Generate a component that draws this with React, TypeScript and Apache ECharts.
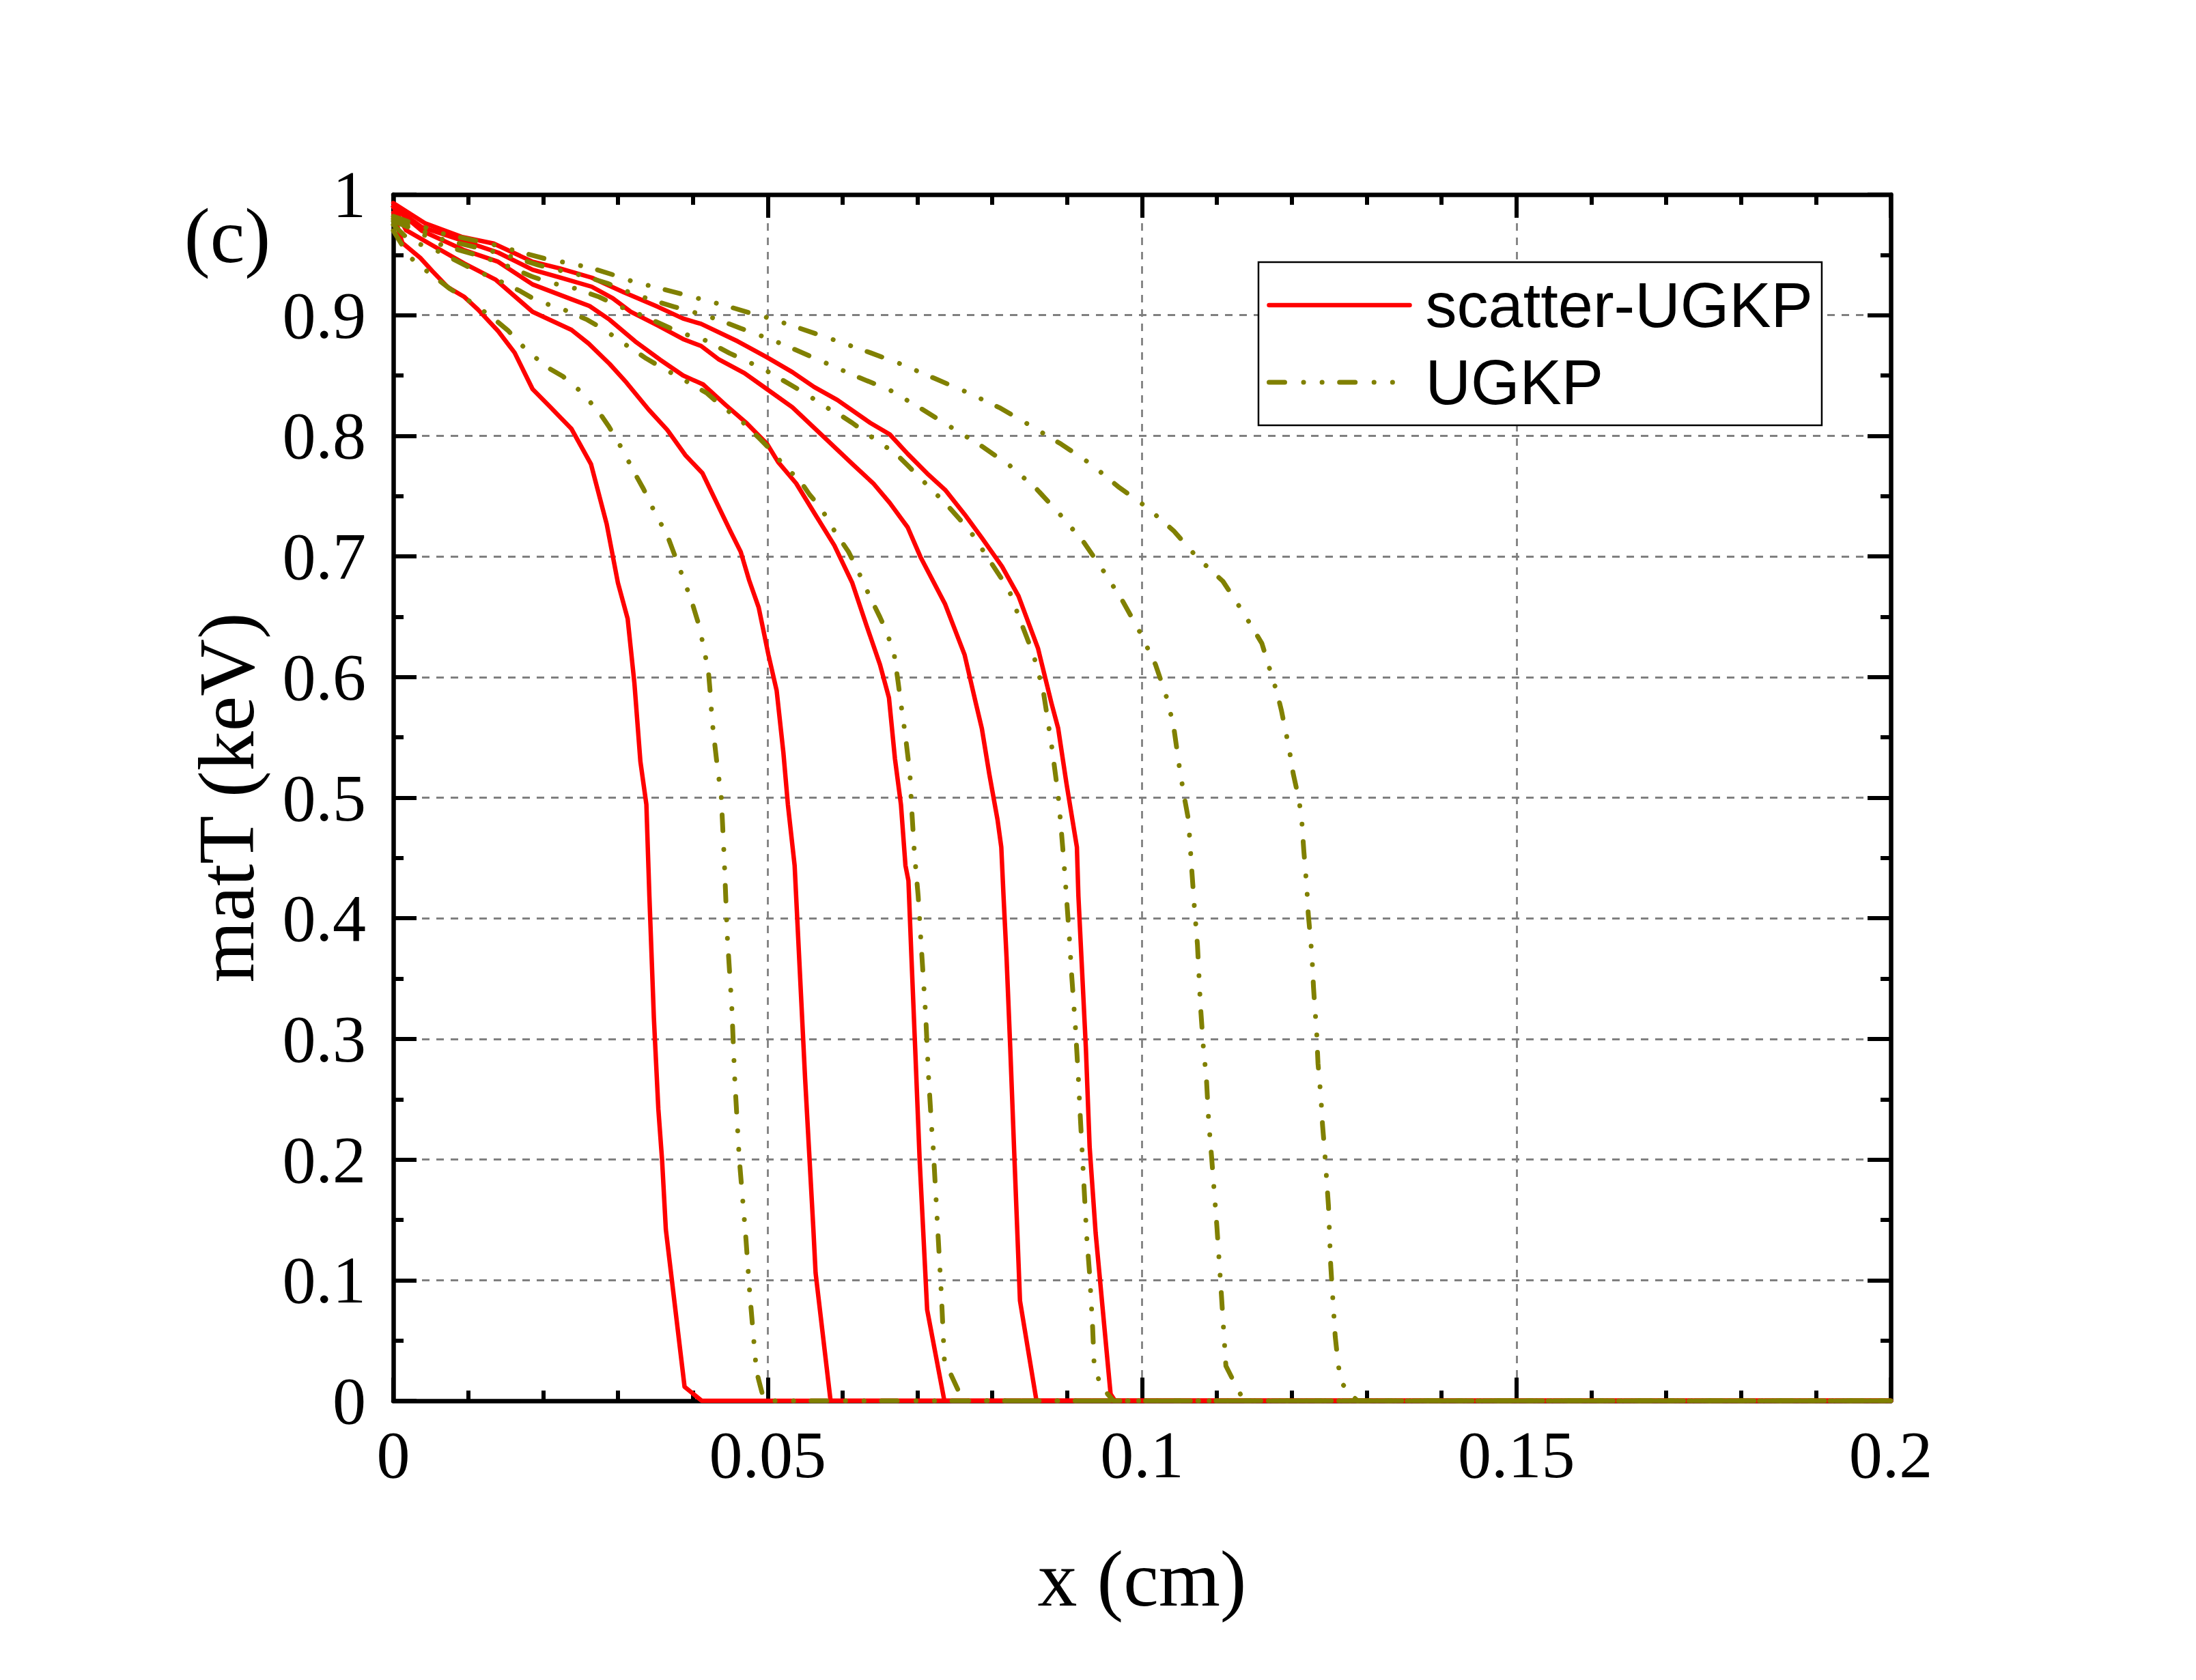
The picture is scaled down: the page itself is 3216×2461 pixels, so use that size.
import React, { useEffect, useRef } from "react";
import * as echarts from "echarts";

// x (cm), matT (keV)
const scatterUGKP1 = [
  [0, 0.985], [0.0012, 0.96], [0.0036, 0.9475], [0.0052, 0.9366], [0.0073, 0.9231], [0.0095, 0.9151],
  [0.0113, 0.9047], [0.014, 0.8868], [0.0162, 0.8689], [0.0186, 0.8387], [0.0209, 0.8243], [0.0238, 0.8057],
  [0.0264, 0.7765], [0.0285, 0.7268], [0.03, 0.678], [0.0313, 0.6483], [0.0322, 0.595], [0.033, 0.53],
  [0.0338, 0.4943], [0.0342, 0.4186], [0.0348, 0.3175], [0.0354, 0.2417], [0.0359, 0.1992], [0.0364, 0.142],
  [0.0389, 0.0116], [0.0412, 0], [0.2, 0],
];
const scatterUGKP2 = [
  [0, 0.99], [0.0017, 0.9705], [0.0052, 0.958], [0.0095, 0.9428], [0.0137, 0.9293], [0.0186, 0.9028],
  [0.0238, 0.8878], [0.0261, 0.8764], [0.0289, 0.8595], [0.0311, 0.8444], [0.0341, 0.8217], [0.0366, 0.8048],
  [0.039, 0.784], [0.0413, 0.7689], [0.0429, 0.7482], [0.0451, 0.7199], [0.0464, 0.7038], [0.0475, 0.6807],
  [0.0488, 0.6577], [0.0501, 0.6185], [0.0512, 0.5887], [0.0521, 0.5373], [0.0527, 0.4943], [0.0536, 0.4438],
  [0.054, 0.3933], [0.0546, 0.3175], [0.055, 0.267], [0.0556, 0.1992], [0.0561, 0.1426], [0.0564, 0.106],
  [0.0584, 0], [0.2, 0],
];
const scatterUGKP3 = [
  [0, 0.99], [0.0038, 0.97], [0.0095, 0.9538], [0.014, 0.9443], [0.0186, 0.9255], [0.0238, 0.9132],
  [0.0262, 0.9076], [0.0289, 0.8962], [0.0323, 0.8783], [0.0356, 0.8632], [0.0387, 0.85], [0.0414, 0.8425],
  [0.0444, 0.8255], [0.0472, 0.8104], [0.0499, 0.7934], [0.0514, 0.7782], [0.0538, 0.7606], [0.0562, 0.7363],
  [0.0589, 0.7092], [0.0613, 0.678], [0.0632, 0.6428], [0.065, 0.6103], [0.0662, 0.5828], [0.067, 0.5322],
  [0.0678, 0.4943], [0.0684, 0.4438], [0.0688, 0.4312], [0.0692, 0.368], [0.0697, 0.2922], [0.0703, 0.1992],
  [0.0713, 0.0755], [0.0736, 0], [0.2, 0],
];
const scatterUGKP4 = [
  [0, 0.99], [0.0038, 0.973], [0.0095, 0.9613], [0.014, 0.9519], [0.0186, 0.9377], [0.0223, 0.9311],
  [0.0265, 0.9236], [0.0293, 0.9141], [0.0317, 0.9029], [0.0353, 0.8915], [0.0387, 0.8802], [0.0411, 0.8745],
  [0.0435, 0.8632], [0.0469, 0.8519], [0.0499, 0.8387], [0.0533, 0.8236], [0.0576, 0.7985], [0.0615, 0.7755],
  [0.0641, 0.7606], [0.0663, 0.7444], [0.0687, 0.7241], [0.0704, 0.6997], [0.0737, 0.6604], [0.0763, 0.6185],
  [0.0778, 0.5784], [0.0786, 0.5575], [0.0796, 0.5196], [0.0807, 0.4817], [0.0812, 0.459], [0.0815, 0.4185],
  [0.0819, 0.368], [0.0824, 0.2922], [0.0829, 0.2105], [0.0837, 0.0829], [0.0859, 0], [0.2, 0],
];
const scatterUGKP5 = [
  [0, 0.993], [0.0043, 0.976], [0.0091, 0.965], [0.0134, 0.9594], [0.0186, 0.9443], [0.0223, 0.9387],
  [0.0265, 0.9311], [0.0308, 0.9189], [0.0353, 0.907], [0.0387, 0.8972], [0.0411, 0.8928], [0.046, 0.8783],
  [0.0499, 0.8651], [0.0533, 0.8528], [0.0562, 0.8405], [0.0593, 0.8297], [0.0637, 0.8107], [0.0663, 0.8012],
  [0.0687, 0.785], [0.0713, 0.7688], [0.0737, 0.7552], [0.0763, 0.7349], [0.0787, 0.7146], [0.0813, 0.6916],
  [0.0835, 0.6672], [0.0861, 0.6239], [0.0879, 0.5784], [0.0888, 0.5575], [0.0899, 0.512], [0.0913, 0.459],
  [0.0915, 0.4185], [0.0919, 0.368], [0.0925, 0.2922], [0.093, 0.2105], [0.0938, 0.1393], [0.0958, 0.0056],
  [0.0964, 0], [0.2, 0],
];

const ugkp1 = [
  [0, 0.97], [0.0021, 0.9488], [0.0036, 0.9407], [0.0056, 0.9312], [0.0076, 0.9217], [0.0106, 0.91],
  [0.0133, 0.8977], [0.0153, 0.8874], [0.0177, 0.8717], [0.0204, 0.8574], [0.0226, 0.8495], [0.0251, 0.8364],
  [0.0274, 0.8202], [0.0288, 0.8076], [0.0306, 0.7887], [0.0322, 0.7695], [0.0334, 0.7561], [0.0349, 0.7368],
  [0.0366, 0.7173], [0.0375, 0.7024], [0.0388, 0.6807], [0.0399, 0.6618], [0.0407, 0.6455], [0.0414, 0.6266],
  [0.0421, 0.6036], [0.0423, 0.589], [0.0426, 0.5626], [0.0432, 0.5297], [0.0438, 0.5007], [0.0442, 0.4489],
  [0.0446, 0.3857], [0.0452, 0.3276], [0.0456, 0.267], [0.0462, 0.2013], [0.0471, 0.134], [0.0476, 0.0896],
  [0.0485, 0.0244], [0.0494, 0.003], [0.0497, 0], [0.2, 0],
];
const ugkp2 = [
  [0, 0.975], [0.0021, 0.9624], [0.006, 0.9529], [0.0107, 0.9378], [0.0139, 0.9293], [0.017, 0.9198],
  [0.0192, 0.9119], [0.0226, 0.9051], [0.0259, 0.8962], [0.028, 0.8887], [0.0309, 0.8761], [0.0338, 0.864],
  [0.0359, 0.8564], [0.039, 0.8457], [0.0419, 0.8353], [0.0437, 0.8253], [0.0465, 0.8123], [0.0489, 0.7978],
  [0.0507, 0.7865], [0.0525, 0.7728], [0.0541, 0.7647], [0.0556, 0.7512], [0.0571, 0.7403], [0.0589, 0.7214],
  [0.0608, 0.7038], [0.0619, 0.6902], [0.0635, 0.6686], [0.065, 0.6496], [0.0659, 0.6374], [0.0669, 0.6185],
  [0.0674, 0.5968], [0.0678, 0.5777], [0.0684, 0.5512], [0.069, 0.5196], [0.0692, 0.4943], [0.0696, 0.4539],
  [0.0701, 0.4185], [0.0705, 0.3781], [0.0711, 0.32], [0.0715, 0.267], [0.0719, 0.2265], [0.0721, 0.2105],
  [0.0732, 0.0878], [0.0736, 0.0338], [0.0744, 0.0228], [0.0754, 0.0093], [0.076, 0], [0.2, 0],
];
const ugkp3 = [
  [0, 0.978], [0.003, 0.9705], [0.0065, 0.958], [0.0121, 0.9481], [0.0153, 0.9406], [0.0185, 0.9321],
  [0.0207, 0.9274], [0.0242, 0.9223], [0.0275, 0.9151], [0.0297, 0.9085], [0.033, 0.9004], [0.0362, 0.8915],
  [0.0384, 0.8853], [0.0418, 0.8789], [0.0449, 0.8685], [0.0471, 0.8623], [0.0502, 0.8527], [0.053, 0.8425],
  [0.0554, 0.8337], [0.0576, 0.8243], [0.0593, 0.8188], [0.0613, 0.8107], [0.0652, 0.7931], [0.0669, 0.7864],
  [0.0687, 0.7755], [0.0704, 0.7647], [0.0737, 0.7444], [0.077, 0.7214], [0.0796, 0.697], [0.0822, 0.6726],
  [0.0839, 0.6442], [0.0855, 0.6185], [0.0868, 0.5887], [0.0872, 0.5727], [0.088, 0.5398], [0.0888, 0.502],
  [0.0892, 0.4741], [0.0896, 0.4438], [0.0899, 0.4185], [0.0903, 0.3832], [0.0906, 0.3529], [0.0911, 0.3099],
  [0.0915, 0.267], [0.0917, 0.2417], [0.092, 0.2068], [0.0926, 0.1369], [0.093, 0.105], [0.0934, 0.0608],
  [0.0936, 0.0301], [0.0942, 0.0178], [0.0954, 0.0056], [0.0962, 0], [0.2, 0],
];
const ugkp4 = [
  [0, 0.98], [0.0065, 0.963], [0.0127, 0.9538], [0.016, 0.9481], [0.0194, 0.9415], [0.0218, 0.9377],
  [0.0253, 0.9328], [0.0286, 0.9264], [0.0309, 0.9204], [0.0342, 0.9132], [0.0375, 0.907], [0.0399, 0.9028],
  [0.0432, 0.8968], [0.0464, 0.8891], [0.0489, 0.8834], [0.0521, 0.8757], [0.0576, 0.8608], [0.0621, 0.8486],
  [0.0663, 0.838], [0.0704, 0.8229], [0.0746, 0.8067], [0.0785, 0.7918], [0.0823, 0.7755], [0.0859, 0.756],
  [0.0891, 0.7344], [0.0922, 0.7119], [0.0949, 0.6875], [0.0974, 0.6631], [0.0997, 0.6374], [0.1018, 0.6103],
  [0.1033, 0.5828], [0.1042, 0.56], [0.105, 0.5247], [0.1056, 0.502], [0.1062, 0.4817], [0.1066, 0.4438],
  [0.107, 0.4084], [0.1074, 0.3781], [0.1078, 0.3276], [0.1082, 0.2922], [0.1086, 0.267], [0.1089, 0.2316],
  [0.1093, 0.2013], [0.11, 0.1442], [0.1106, 0.0878], [0.1112, 0.0289], [0.1124, 0.0142], [0.1136, 0], [0.2, 0],
];
const ugkp5 = [
  [0, 0.982], [0.0065, 0.9678], [0.0134, 0.9585], [0.0168, 0.9525], [0.0203, 0.9468], [0.0227, 0.944],
  [0.0262, 0.9396], [0.0294, 0.9334], [0.0318, 0.9283], [0.0353, 0.9227], [0.0386, 0.9174], [0.0409, 0.9136],
  [0.0444, 0.9079], [0.0477, 0.9017], [0.0501, 0.8977], [0.0527, 0.8925], [0.0591, 0.879], [0.0637, 0.8689],
  [0.0678, 0.8595], [0.0724, 0.8473], [0.0768, 0.8356], [0.0811, 0.8229], [0.085, 0.8088], [0.0892, 0.7931],
  [0.0931, 0.7769], [0.0968, 0.7579], [0.1006, 0.7409], [0.1042, 0.7214], [0.1074, 0.6989], [0.1108, 0.6794],
  [0.1135, 0.6537], [0.116, 0.628], [0.1174, 0.5995], [0.118, 0.5878], [0.1186, 0.5727], [0.1191, 0.5575],
  [0.1196, 0.5423], [0.1202, 0.5196], [0.1209, 0.5], [0.1213, 0.4842], [0.1216, 0.4564], [0.1218, 0.4413],
  [0.122, 0.4261], [0.1222, 0.4034], [0.1225, 0.3832], [0.1227, 0.368], [0.1229, 0.3428], [0.1231, 0.3238],
  [0.1233, 0.3086], [0.1235, 0.2796], [0.1237, 0.2657], [0.1239, 0.2505], [0.1241, 0.229], [0.1244, 0.2063],
  [0.1249, 0.1614], [0.1252, 0.1123], [0.1258, 0.0534], [0.1262, 0.0301], [0.1266, 0.0154], [0.1278, 0.0056],
  [0.1288, 0], [0.2, 0],
];

const seriesNames = ["scatter-UGKP", "UGKP"];
const xRange = [0, 0.2];
const yRange = [0, 1];
const xTickStep = 0.05;
const yTickStep = 0.1;
const panelLabel = "(c)";
const xTitle = "x (cm)";
const yTitle = "matT (keV)";

const SERIF = "'Liberation Serif', 'Times New Roman', serif";
const SANS = "'Liberation Sans', Arial, sans-serif";

export default function App() {
  const ref = useRef<HTMLDivElement>(null);

  useEffect(() => {
    if (!ref.current) return;
    const chart = echarts.init(ref.current, undefined, { renderer: "svg" });

    const axisLine = { show: true, onZero: false, lineStyle: { color: "#000", width: 6.5 } };
    const majorTick = { show: true, inside: true, length: 34, lineStyle: { color: "#000", width: 6 } };
    const grid = { color: "#808080", width: 2.8, type: [11, 10] };

    const mkX = (pos: string, main: boolean) => ({
      type: "value",
      position: pos,
      min: xRange[0],
      max: xRange[1],
      interval: xTickStep,
      axisLine,
      axisTick: majorTick,
      minorTick: { show: true, splitNumber: 5, length: 15, lineStyle: { color: "#000", width: 6 } },
      splitLine: { show: main, lineStyle: grid },
      minorSplitLine: { show: false },
      axisLabel: main
        ? { show: true, color: "#000", fontFamily: SERIF, fontSize: 98, margin: 30, lineHeight: 98 }
        : { show: false },
      name: main ? xTitle : "",
      nameLocation: "middle",
      nameGap: 203,
      nameTextStyle: { color: "#000", fontFamily: SERIF, fontSize: 116 },
    });
    const mkY = (pos: string, main: boolean) => ({
      type: "value",
      position: pos,
      min: yRange[0],
      max: yRange[1],
      interval: yTickStep,
      axisLine,
      axisTick: majorTick,
      minorTick: { show: true, splitNumber: 2, length: 15, lineStyle: { color: "#000", width: 6 } },
      splitLine: { show: main, lineStyle: grid },
      minorSplitLine: { show: false },
      axisLabel: main
        ? { show: true, color: "#000", fontFamily: SERIF, fontSize: 98, margin: 40 }
        : { show: false },
      name: main ? yTitle : "",
      nameLocation: "middle",
      nameGap: 186,
      nameTextStyle: { color: "#000", fontFamily: SERIF, fontSize: 116 },
    });

    const red = [scatterUGKP1, scatterUGKP2, scatterUGKP3, scatterUGKP4, scatterUGKP5].map((d) => ({
      type: "line",
      name: seriesNames[0],
      data: d,
      symbol: "none",
      showSymbol: false,
      xAxisIndex: 0,
      yAxisIndex: 0,
      lineStyle: { color: "#FF0000", width: 6.5, type: "solid", cap: "round", join: "round" },
      itemStyle: { color: "#FF0000" },
      z: 3,
    }));
    const olive = [ugkp1, ugkp2, ugkp3, ugkp4, ugkp5].map((d) => ({
      type: "line",
      name: seriesNames[1],
      data: d,
      symbol: "none",
      showSymbol: false,
      xAxisIndex: 0,
      yAxisIndex: 0,
      lineStyle: {
        color: "#808000",
        width: 7,
        type: [23, 27.5, 0.1, 27, 0.1, 25.5],
        cap: "round",
        join: "round",
      },
      itemStyle: { color: "#808000" },
      z: 4,
    }));

    chart.setOption({
      animation: false,
      backgroundColor: "#fff",
      grid: { left: 576, right: 447, top: 285, bottom: 409, containLabel: false },
      xAxis: [mkX("bottom", true), mkX("top", false)],
      yAxis: [mkY("left", true), mkY("right", false)],
      legend: {
        show: true,
        orient: "vertical",
        left: 1843,
        top: 384,
        data: seriesNames,
        itemWidth: 206,
        itemHeight: 20,
        itemGap: 21,
        padding: [17, 13, 17, 12],
        backgroundColor: "#fff",
        borderColor: "#000",
        borderWidth: 2.5,
        borderRadius: 0,
        selectedMode: false,
        itemStyle: { opacity: 0 },
        lineStyle: { width: "inherit", type: "inherit", cap: "inherit", color: "inherit" },
        formatter: (n: string) => `{t|${n}}`,
        textStyle: {
          color: "#000",
          fontFamily: SANS,
          fontSize: 92,
          rich: {
            t: { color: "#000", fontFamily: SANS, fontSize: 92, lineHeight: 92, padding: [0, 0, 0, 18] },
          },
        },
        z: 10,
      },
      graphic: [
        {
          type: "text",
          x: 333,
          y: 345,
          style: {
            text: panelLabel,
            fontSize: 114,
            fontFamily: SERIF,
            fill: "#000",
            align: "center",
            verticalAlign: "middle",
            textAlign: "center",
            textVerticalAlign: "middle",
          },
        },
      ],
      series: [...red, ...olive],
    });

    return () => chart.dispose();
  }, []);

  return (
    <div
      ref={ref}
      style={{ position: "absolute", left: 0, top: 0, width: 3216, height: 2461, background: "#fff" }}
    />
  );
}
